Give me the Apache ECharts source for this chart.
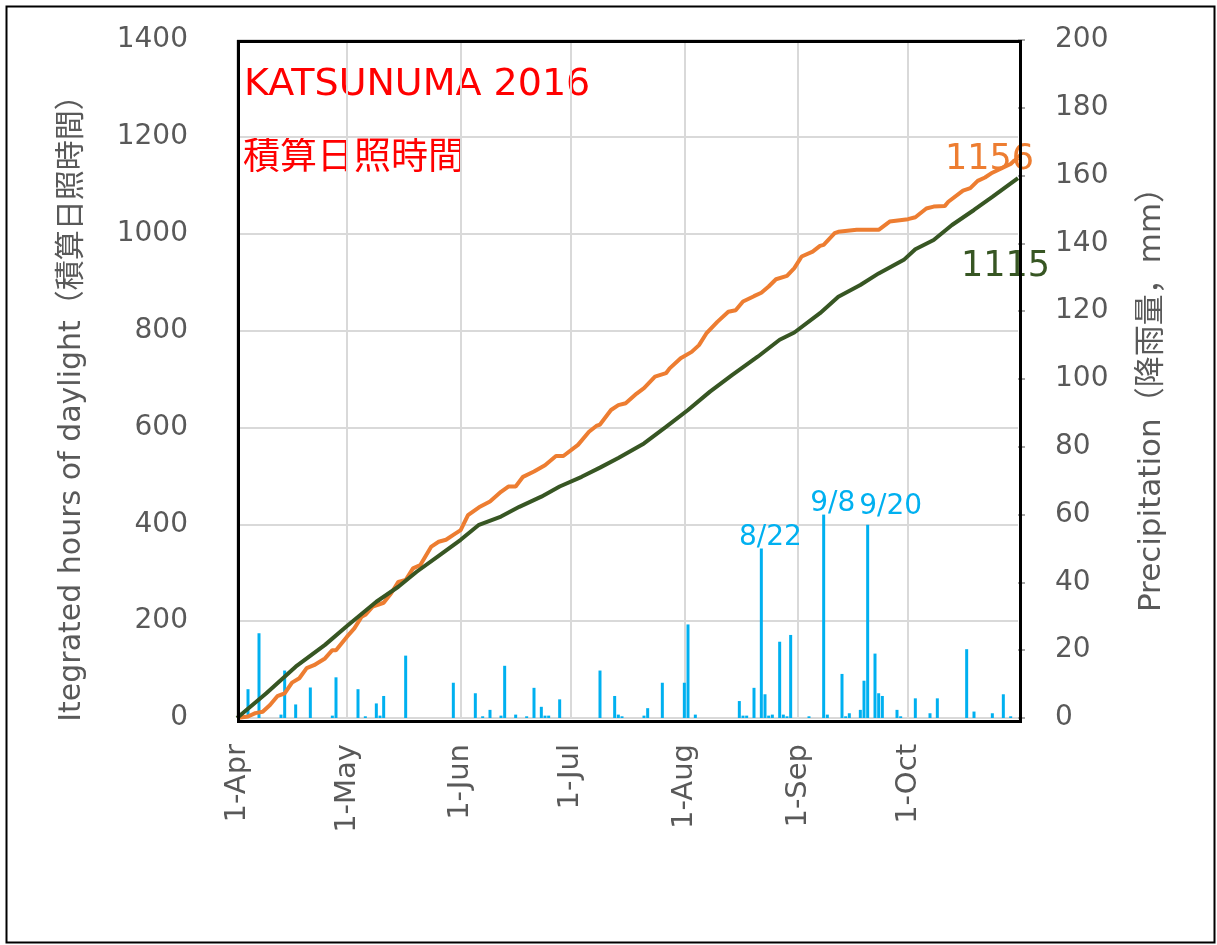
<!DOCTYPE html>
<html>
<head>
<meta charset="utf-8">
<script src="https://cdn.jsdelivr.net/npm/echarts@6/dist/echarts.min.js"></script>
<style>
  html, body { margin: 0; padding: 0; background: #fff; }
  #chart { width: 1217px; height: 945px; }
</style>
</head>
<body>
<div id="chart"></div>
<script>
// months shown on the x axis (daily categories from 1-Apr to 31-Oct)
const monthNames = ['Apr', 'May', 'Jun', 'Jul', 'Aug', 'Sep', 'Oct'];
const monthDays = [30, 31, 30, 31, 31, 30, 31];

// integrated daylight hours, [dayIndex, hours]
const sun2016 = [[0,0],[3,3],[5,10],[7,13],[9,27],[11,45],[13,51],[15,73],[17,82],[19,103],[21,109],[24,123],[26,140],[27,140],[30,168],[32,185],[34,209],[35,213],[37,230],[40,238],[42,257],[44,281],[46,285],[48,309],[50,316],[53,354],[55,364],[57,368],[59,378],[61,388],[63,419],[66,435],[69,447],[72,467],[74,478],[76,478],[78,498],[81,509],[84,522],[87,541],[89,541],[93,564],[96,591],[98,603],[99,606],[102,636],[104,646],[106,650],[109,670],[111,681],[114,705],[117,712],[118,722],[121,743],[124,756],[126,770],[128,794],[131,818],[134,839],[136,842],[138,860],[141,871],[143,878],[145,891],[147,906],[150,913],[152,929],[154,953],[157,963],[159,975],[160,977],[163,1001],[164,1004],[169,1008],[175,1008],[178,1025],[183,1030],[185,1034],[188,1052],[190,1056],[193,1057],[194,1066],[198,1089],[200,1094],[202,1109],[204,1116],[206,1126],[209,1137],[211,1144],[212,1151],[213,1156]];
const sunNormal = [[0,0],[8,51],[16,106],[24,151],[30,190],[38,240],[44,271],[49,302],[55,335],[61,368],[66,399],[72,416],[77,436],[83,457],[88,478],[94,498],[99,517],[104,537],[111,567],[117,601],[123,636],[129,674],[135,708],[142,746],[148,781],[152,796],[159,836],[164,870],[170,894],[175,918],[182,947],[185,968],[190,987],[195,1018],[201,1049],[206,1076],[213,1115]];

// daily precipitation (mm), [dayIndex, mm]
const rain = [[3,8.5],[6,25],[12,1],[13,14],[16,4],[20,9],[26,0.7],[27,12],[33,8.5],[35,0.5],[38,4.3],[39,0.7],[40,6.5],[46,18.4],[59,10.4],[65,7.3],[67,0.5],[69,2.4],[72,0.7],[73,15.4],[76,1],[79,0.5],[81,8.9],[83,3.3],[84,0.7],[85,0.7],[88,5.5],[99,14],[103,6.5],[104,1],[105,0.5],[111,0.7],[112,2.9],[116,10.4],[122,10.4],[123,27.6],[125,1],[137,5],[138,0.7],[139,0.7],[141,8.9],[143,50],[144,7],[145,0.7],[146,1],[148,22.5],[149,1],[150,0.5],[151,24.5],[156,0.5],[160,60],[161,1],[165,13],[166,0.5],[167,1.4],[170,2.4],[171,11],[172,57],[174,19],[175,7.3],[176,6.5],[180,2.4],[181,0.5],[185,5.8],[189,1.4],[191,5.8],[199,20.3],[201,1.9],[206,1.4],[209,7],[211,0.5]];
// rain days that get a date label
const rainNotes = { 143: '8/22', 160: '9/8', 172: '9/20' };

const days = [];
monthNames.forEach((m, i) => {
    for (let d = 1; d <= monthDays[i]; d++) days.push(d + '-' + m);
});
const isMonthStart = (idx, val) => val.indexOf('1-') === 0;

const fontLatin = '"DejaVu Sans", "Noto Sans CJK JP", sans-serif';
const gray = '#595959';

const noteOffset = { '8/22': [9, 8], '9/8': [9, 8], '9/20': [23, 1] };
const rainData = rain.map(p => {
    const note = rainNotes[p[0]];
    if (!note) return p;
    return {
        value: p,
        label: {
            show: true, position: 'top', formatter: note, offset: noteOffset[note],
            color: '#00B0F0', fontSize: 28, fontFamily: fontLatin
        }
    };
});

const chart = echarts.init(document.getElementById('chart'));
chart.setOption({
    animation: false,
    textStyle: { fontFamily: fontLatin },
    grid: { left: 237, right: 199, top: 40, bottom: 227 },
    graphic: [
        {
            type: 'rect', left: 4, top: 4, z: -10,
            shape: { width: 1208, height: 936 },
            style: { fill: 'none', stroke: '#000', lineWidth: 2 }
        },
        {
            // plot area frame, drawn above the grid lines
            type: 'rect', left: 236, top: 39, z: 100,
            shape: { width: 782, height: 680 },
            style: { fill: 'none', stroke: '#000', lineWidth: 3 }
        },
        {
            type: 'text', left: 244, top: 66,
            style: { text: 'KATSUNUMA 2016', fill: '#FF0000', fontSize: 38, fontFamily: fontLatin }
        },
        {
            type: 'text', left: 243, top: 136,
            style: { text: '積算日照時間', fill: '#FF0000', fontSize: 37, fontFamily: '"Noto Sans CJK JP", sans-serif' }
        },
        {
            type: 'text', x: 72, y: 401, rotation: Math.PI / 2,
            style: {
                text: 'Itegrated hours of daylight（積算日照時間）', fill: gray, fontSize: 30,
                fontFamily: fontLatin, align: 'center', verticalAlign: 'middle'
            }
        },
        {
            type: 'text', x: 1152, y: 392, rotation: Math.PI / 2,
            style: {
                text: 'Precipitation（降雨量，mm）', fill: gray, fontSize: 31,
                fontFamily: fontLatin, align: 'center', verticalAlign: 'middle'
            }
        }
    ],
    xAxis: {
        type: 'category',
        data: days,
        boundaryGap: false,
        axisLine: { show: false },
        axisTick: { show: false },
        axisLabel: {
            interval: isMonthStart, rotate: 90, margin: 26,
            color: gray, fontSize: 29, fontFamily: fontLatin
        },
        splitLine: {
            show: true, interval: isMonthStart,
            lineStyle: { color: '#D9D9D9', width: 2 }
        }
    },
    yAxis: [
        {
            type: 'value', min: 0, max: 1400, interval: 200,
            axisLine: { show: false },
            axisTick: { show: false },
            axisLabel: {
                color: gray, fontSize: 28, margin: 49, fontFamily: fontLatin,
                formatter: v => String(v)
            },
            splitLine: { lineStyle: { color: '#D9D9D9', width: 2 } }
        },
        {
            type: 'value', min: 0, max: 200, interval: 20, position: 'right',
            axisLine: { show: false },
            axisTick: { show: true, length: 7, lineStyle: { color: '#8c8c8c', width: 1.5 } },
            axisLabel: {
                color: gray, fontSize: 28, margin: 37, fontFamily: fontLatin,
                formatter: v => String(v)
            },
            splitLine: { show: false }
        }
    ],
    series: [
        {
            name: 'Precipitation',
            type: 'bar',
            yAxisIndex: 1,
            barWidth: 3,
            itemStyle: { color: '#00B0F0' },
            data: rainData
        },
        {
            name: '2016',
            type: 'line',
            yAxisIndex: 0,
            showSymbol: false,
            lineStyle: { color: '#ED7D31', width: 4 },
            itemStyle: { color: '#ED7D31' },
            endLabel: {
                show: true, formatter: '1156', offset: [-81, 2],
                color: '#ED7D31', fontSize: 35, fontFamily: fontLatin
            },
            data: sun2016
        },
        {
            name: 'Normal',
            type: 'line',
            yAxisIndex: 0,
            showSymbol: false,
            lineStyle: { color: '#375623', width: 4 },
            itemStyle: { color: '#375623' },
            endLabel: {
                show: true, formatter: '1115', offset: [-65, 89],
                color: '#375623', fontSize: 35, fontFamily: fontLatin
            },
            data: sunNormal
        }
    ]
});
</script>
</body>
</html>
